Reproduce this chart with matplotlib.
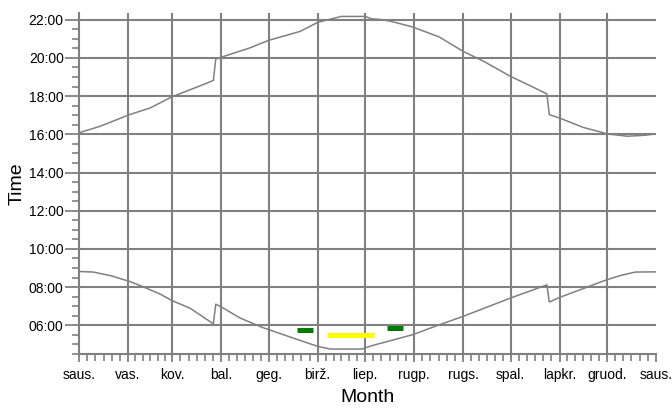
import matplotlib
matplotlib.use("Agg")
import matplotlib.pyplot as plt
from matplotlib.ticker import FixedLocator, FuncFormatter

plt.rcParams['font.family'] = ['Liberation Sans', 'DejaVu Sans']

# Month starts (day of year) and labels
month_days = [0, 31, 59, 90, 120, 151, 181, 212, 243, 273, 304, 334, 365]
month_labels = ['saus.', 'vas.', 'kov.', 'bal.', 'geg.', 'birž.', 'liep.',
                'rugp.', 'rugs.', 'spal.', 'lapkr.', 'gruod.', 'saus.']

# Sunset (hours, decimal)
sunset_day = [0, 13, 32, 45, 59, 77, 85, 86.5, 90.5, 108, 120, 140, 151, 159,
              166, 181, 185, 192, 199, 211, 228, 243, 256, 273, 287, 296,
              297.5, 304, 319, 330, 334, 347, 358, 365]
sunset_h = [16.08, 16.41, 17.03, 17.38, 17.97, 18.55, 18.82, 19.94, 20.05,
            20.52, 20.92, 21.39, 21.86, 22.03, 22.17, 22.17, 22.05, 22.0,
            21.88, 21.62, 21.09, 20.34, 19.82, 19.03, 18.48, 18.11, 17.03,
            16.85, 16.36, 16.12, 16.02, 15.9, 15.95, 16.02]

# Sunrise (hours, decimal)
sunrise_day = [0, 9, 20, 32, 39, 51, 59, 70, 85, 86.5, 90.5, 102, 116, 133.5,
               151, 159, 179, 185, 203, 211, 228, 243, 273, 296, 297.5, 304,
               334, 342.5, 352, 365]
sunrise_h = [8.82, 8.79, 8.60, 8.30, 8.07, 7.65, 7.29, 6.91, 6.08, 7.11, 6.94,
             6.38, 5.89, 5.39, 4.90, 4.76, 4.76, 4.93, 5.33, 5.51, 6.03, 6.47,
             7.43, 8.12, 7.22, 7.46, 8.39, 8.61, 8.79, 8.80]

# Coloured events
event_start = [137.8, 156.8, 195.1]
event_end = [147.9, 186.3, 204.9]
event_h = [5.74, 5.47, 5.85]
event_color = ['#007a00', '#ffff00', '#007a00']

y_major = [6, 8, 10, 12, 14, 16, 18, 20, 22]

gray = '#808080'

fig = plt.figure(figsize=(6.72, 4.09), dpi=100)
ax = fig.add_axes([79/672, 55/409, 577/672, (354-13)/409])

ax.set_xlim(0, 365)
ax.set_ylim(4.5, 22.35)

# grid
for d in month_days[1:-1]:
    ax.axvline(d, color=gray, lw=1.5, zorder=1)
for h in y_major:
    ax.axhline(h, color=gray, lw=1.5, zorder=1)

ax.plot(sunset_day, sunset_h, color=gray, lw=1.1, zorder=2)
ax.plot(sunrise_day, sunrise_h, color=gray, lw=1.1, zorder=2)

for s, e, h, c in zip(event_start, event_end, event_h, event_color):
    ax.plot([s, e], [h, h], color=c, lw=3.6, solid_capstyle='butt', zorder=3)

# spines
for sp in ['top', 'right']:
    ax.spines[sp].set_visible(False)
for sp in ['left', 'bottom']:
    ax.spines[sp].set_color(gray)
    ax.spines[sp].set_linewidth(1.5)

# ticks
ax.xaxis.set_major_locator(FixedLocator(month_days))
ax.set_xticklabels(month_labels)
minor_x = []
for a, b in zip(month_days[:-1], month_days[1:]):
    for k in range(1, 6):
        minor_x.append(a + (b - a) * k / 6)
ax.xaxis.set_minor_locator(FixedLocator(minor_x))

ax.yaxis.set_major_locator(FixedLocator(y_major))
ax.yaxis.set_major_formatter(FuncFormatter(lambda v, p: '%02d:%02d' % (int(v), int(round((v % 1) * 60)))))
ax.yaxis.set_minor_locator(FixedLocator([4.5 + 0.5 * i for i in range(36)]))

ax.tick_params(axis='both', which='major', color=gray, width=1.3, labelsize=10, labelcolor='black')
ax.tick_params(axis='y', which='major', length=10, pad=1)
ax.tick_params(axis='y', which='minor', length=5, color=gray, width=1.2)
ax.tick_params(axis='x', which='major', length=6, pad=4)
ax.tick_params(axis='x', which='minor', length=5, color=gray, width=1.2)

ax.set_xlabel('Month', fontsize=14, labelpad=5)
ax.set_ylabel('Time', fontsize=14, labelpad=2)

fig.savefig('out.png', dpi=100)
